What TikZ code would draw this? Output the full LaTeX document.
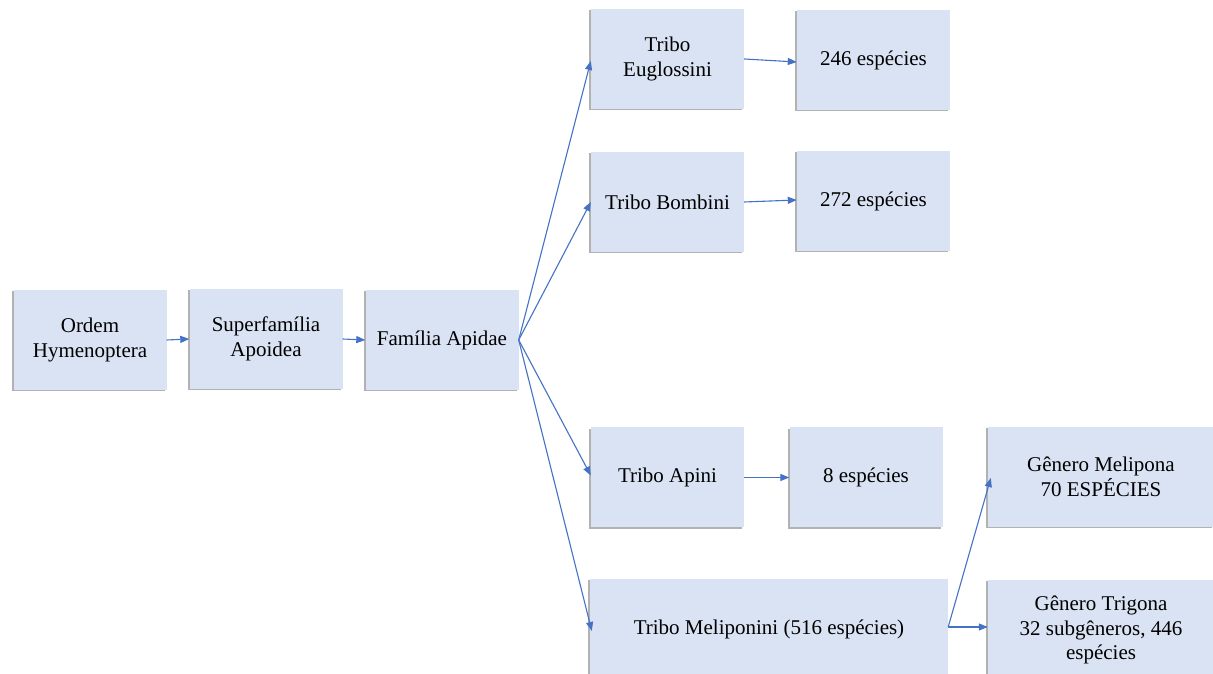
\documentclass[tikz,border=0pt]{standalone}
\usepackage{fontspec}
\setmainfont{Liberation Serif}
\usetikzlibrary{arrows.meta,shadows}
\definecolor{boxfill}{HTML}{DAE3F3}
\definecolor{arrowblue}{HTML}{4472C4}
\tikzset{
  box/.style={rectangle, fill=boxfill, align=center, inner sep=2pt,
    font=\fontsize{21}{24.5}\selectfont, text=black,
    general shadow={fill=black!30, shadow xshift=-2pt, shadow yshift=-1.5pt},
    minimum height=100pt, minimum width=153pt},
  conn/.style={draw=arrowblue, line width=1.1pt, -{Triangle[length=9pt,width=7pt]}},
}
\begin{document}
\begin{tikzpicture}[x=1pt,y=1pt]
\useasboundingbox (0,0) rectangle (1213,674);
\fill[white] (0,0) rectangle (1213,674);
\clip (0,0) rectangle (1213,674);
% y = 674 - ypx
\node[box] (ord) at (90,334) {Ordem\\Hymenoptera};
\node[box] (sup) at (266,335) {Superfamília\\Apoidea};
\node[box] (fam) at (442,334) {Família Apidae};
\node[box] (eug) at (667.5,615) {Tribo\\Euglossini};
\node[box] (e246) at (873.5,614) {246 espécies};
\node[box] (bom) at (667.5,472) {Tribo Bombini};
\node[box] (e272) at (873.5,473) {272 espécies};
\node[box] (api) at (667.5,196.5) {Tribo Apini};
\node[box] (e8) at (866,196.5) {8 espécies};
\node[box, minimum width=358pt] (mel) at (769,45) {Tribo Meliponini (516 espécies)};
\node[box, minimum width=226pt] (gmel) at (1101,197) {Gênero Melipona\\70 ESPÉCIES};
\node[box, minimum width=226pt] (gtri) at (1101,44) {Gênero Trigona\\32 subgêneros, 446\\espécies};
\draw[conn] (ord.east) -- (sup.west);
\draw[conn] (sup.east) -- (fam.west);
\draw[conn] (fam.east) -- ([yshift=-2pt]eug.west);
\draw[conn] (fam.east) -- (bom.west);
\draw[conn] (fam.east) -- ([yshift=2pt]api.west);
\draw[conn] (fam.east) -- ([yshift=-2pt,xshift=2pt]mel.west);
\draw[conn] (eug.east) -- ([yshift=-2pt]e246.west);
\draw[conn] (bom.east) -- ([yshift=1pt]e272.west);
\draw[conn] (api.east) -- (e8.west);
\draw[conn] ([yshift=2pt]mel.east) -- ([xshift=3pt,yshift=-1pt]gmel.west);
\draw[conn] ([yshift=2pt]mel.east) -- ([yshift=3pt]gtri.west);
\end{tikzpicture}
\end{document}
